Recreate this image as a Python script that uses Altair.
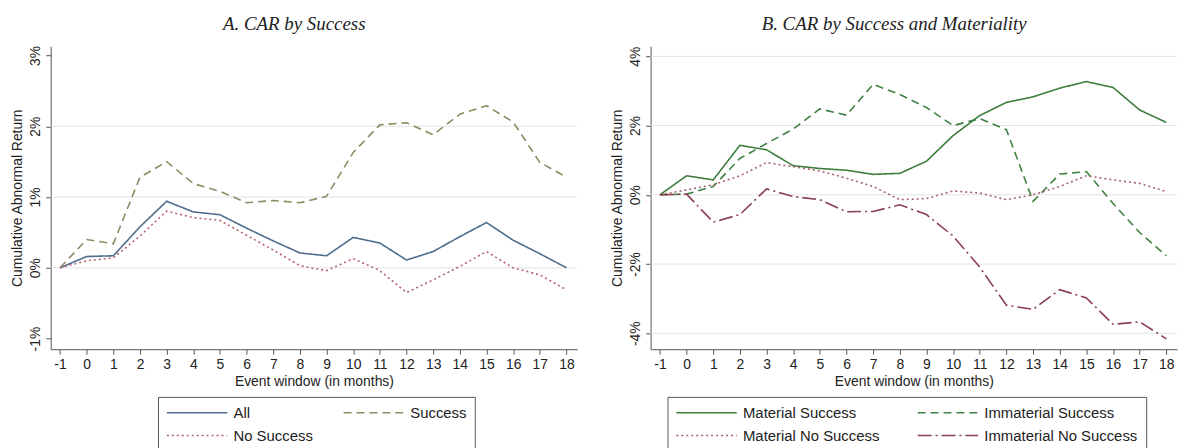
import altair as alt
import pandas as pd

months = list(range(-1, 19))

# Panel A
all_car = [0, 0.16, 0.17, 0.58, 0.94, 0.79, 0.75, 0.56, 0.38, 0.21, 0.17, 0.43, 0.35, 0.11, 0.23, 0.44, 0.64, 0.39, 0.20, 0.0]
success_car = [0, 0.40, 0.34, 1.28, 1.50, 1.19, 1.08, 0.92, 0.95, 0.92, 1.01, 1.63, 2.02, 2.05, 1.88, 2.17, 2.29, 2.06, 1.49, 1.28]
nosuccess_car = [0, 0.10, 0.14, 0.45, 0.80, 0.71, 0.67, 0.46, 0.25, 0.03, -0.04, 0.13, -0.04, -0.35, -0.17, 0.02, 0.23, 0.0, -0.10, -0.31]

# Panel B
mat_succ = [0, 0.55, 0.43, 1.43, 1.30, 0.84, 0.76, 0.71, 0.59, 0.62, 0.97, 1.71, 2.29, 2.67, 2.83, 3.08, 3.27, 3.10, 2.45, 2.09]
imm_succ = [0, 0.02, 0.24, 1.05, 1.48, 1.90, 2.48, 2.30, 3.19, 2.90, 2.52, 2.00, 2.20, 1.88, -0.19, 0.60, 0.67, -0.25, -1.09, -1.76]
mat_nosucc = [0, 0.14, 0.29, 0.55, 0.93, 0.81, 0.69, 0.48, 0.24, -0.14, -0.11, 0.11, 0.05, -0.14, 0.0, 0.24, 0.55, 0.43, 0.33, 0.09]
imm_nosucc = [0, 0.02, -0.79, -0.57, 0.17, -0.05, -0.14, -0.49, -0.48, -0.29, -0.57, -1.19, -2.09, -3.19, -3.31, -2.74, -2.98, -3.74, -3.67, -4.16]

a_series = ["All", "Success", "No Success"]
a_colors = ["#4e6d8c", "#8c8c64", "#b5606e"]
a_dashes = [[1, 0], [8, 5], [2, 3]]
a_values = [all_car, success_car, nosuccess_car]

b_series = ["Material Success", "Immaterial Success", "Material No Success", "Immaterial No Success"]
b_colors = ["#3d7d3d", "#3f8043", "#a8606f", "#8c3f4f"]
b_dashes = [[1, 0], [8, 5], [2, 3], [14, 4, 2, 4]]
b_values = [mat_succ, imm_succ, mat_nosucc, imm_nosucc]

a_yticks = [-1, 0, 1, 2, 3]
a_grid = [0, 1, 2]
b_yticks = [-4, -2, 0, 2, 4]
b_grid = [-4, -2, 0, 2, 4]

FONT = "Liberation Sans"


def long_df(series, values):
    rows = []
    for name, vals in zip(series, values):
        for m, v in zip(months, vals):
            rows.append({"month": m, "car": v, "series": name})
    return pd.DataFrame(rows)


def panel(series, values, colors, dashes, ydomain, yticks, grid, title, leg_x, col_pad):
    df = long_df(series, values)
    yscale = alt.Scale(domain=ydomain, nice=False, zero=False)
    yaxis = alt.Axis(
        values=yticks, labelExpr="datum.value + '%'", title="Cumulative Abnormal Return",
        grid=False, labelAngle=270, labelAlign="center", labelBaseline="bottom",
    )
    legend = alt.Legend(
        title=None, orient="none", legendX=leg_x, legendY=353, columns=2, direction="horizontal",
        symbolType="M-1,0H7.6", symbolSize=200, symbolStrokeWidth=1.5,
        symbolFillColor="transparent",
        labelFontSize=15, labelFont=FONT, labelColor="#222",
        strokeColor="#555", fillColor="white", padding=8,
        rowPadding=7, columnPadding=col_pad, labelOffset=52, labelLimit=300,
    )
    gridlayer = alt.Chart(pd.DataFrame({"car": grid})).mark_rule(
        color="#e2e2e2", strokeWidth=1
    ).encode(y=alt.Y("car:Q", scale=yscale, axis=yaxis))
    lines = alt.Chart(df).mark_line(strokeWidth=1.6).encode(
        x=alt.X(
            "month:Q",
            scale=alt.Scale(domain=[-1.35, 18.4], nice=False, zero=False),
            axis=alt.Axis(values=months, labelExpr="'' + datum.value",
                          title="Event window (in months)", grid=False),
        ),
        y=alt.Y("car:Q", scale=yscale, axis=yaxis),
        color=alt.Color("series:N", scale=alt.Scale(domain=series, range=colors), legend=legend),
        strokeDash=alt.StrokeDash("series:N", scale=alt.Scale(domain=series, range=dashes), legend=legend),
    )
    return alt.layer(gridlayer, lines).properties(
        width=530, height=305,
        title=alt.TitleParams(
            title, font="Liberation Serif", fontStyle="italic", fontWeight="normal",
            fontSize=19, color="#222", anchor="middle", frame="bounds", offset=12,
        ),
    )


left = panel(a_series, a_values, a_colors, a_dashes, [-1.15, 3.13], a_yticks, a_grid,
             "A. CAR by Success", 108, 26)
right = panel(b_series, b_values, b_colors, b_dashes, [-4.46, 4.29], b_yticks, b_grid,
              "B. CAR by Success and Materiality", 17, 34)

chart = alt.hconcat(left, right, spacing=33).resolve_scale(
    color="independent", strokeDash="independent", y="independent"
).configure_view(stroke=None).configure_axis(
    labelFont=FONT, titleFont=FONT, labelFontSize=14, titleFontSize=14,
    labelColor="#222", titleColor="#222", titleFontWeight="normal",
    domainColor="#555", tickColor="#555", tickSize=5, labelPadding=3, titlePadding=4,
).properties(padding={"left": 3, "top": 5, "right": 0, "bottom": 5})

chart.save("out.html", embed_options={"renderer": "svg", "actions": False})
